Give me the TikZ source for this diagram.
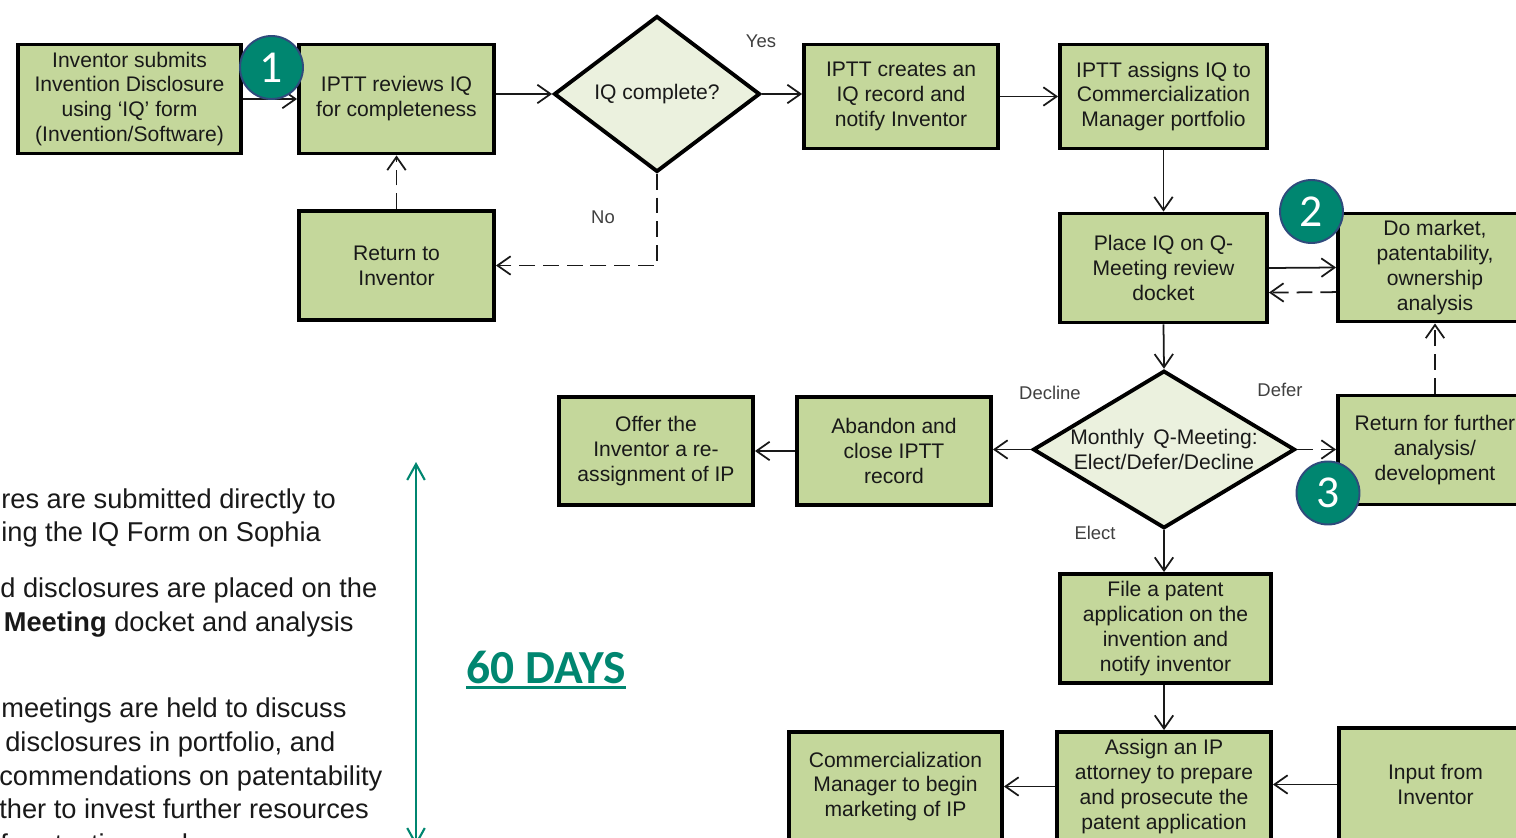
\documentclass[tikz,border=0pt]{standalone}
\usepackage{fontspec}
\setmainfont{Liberation Sans}
\newfontfamily\calibri{Carlito}
\usetikzlibrary{arrows.meta,shapes.geometric}
\newdimen\pxu
\pxu=0.02cm
\definecolor{boxgreen}{RGB}{196,215,155}
\definecolor{diamfill}{RGB}{235,241,222}
\definecolor{tealmark}{RGB}{0,134,112}
\definecolor{navyring}{RGB}{47,75,124}
\definecolor{inkdark}{RGB}{25,25,25}
\definecolor{labelgray}{RGB}{64,64,64}
\begin{document}
\begin{tikzpicture}[x=0.02cm, y=-0.02cm,
  stepbox/.style={draw=black, line width=2.2pt, fill=boxgreen, align=center, inner sep=0pt,
    text=inkdark, font=\fontsize{12}{14.2}\selectfont},
  decision/.style={shape=diamond, draw=black, line width=2.2pt, fill=diamfill, align=center,
    inner sep=-10pt, text=inkdark, font=\fontsize{12}{14.2}\selectfont},
  flow/.style={draw=inkdark, line width=1pt, -{Straight Barb[length=7.5pt,width=10.5pt]}},
  backflow/.style={flow, dash pattern=on 9pt off 4.5pt},
  branch/.style={text=labelgray, font=\fontsize{10.5}{12}\selectfont, inner sep=0pt},
  marker/.style={circle, fill=tealmark, draw=navyring, line width=1.1pt, minimum size=63\pxu,
    inner sep=0pt, text=white, font=\calibri\fontsize{26}{26}\selectfont},
  note/.style={anchor=base west, inner sep=0pt, text=inkdark, font=\fontsize{15.5}{19}\selectfont},
]
\useasboundingbox (0,0) rectangle (1516,838);
\clip (0,0) rectangle (1516,838);
\fill[white] (0,0) rectangle (1516,838);

% --- process steps ---
\node[stepbox, minimum width=223\pxu, minimum height=109\pxu] (submit) at (129.5,99)
  {Inventor submits\\Invention Disclosure\\using ‘IQ’ form\\(Invention/Software)};
\node[stepbox, minimum width=195\pxu, minimum height=109\pxu] (review) at (396.5,99)
  {IPTT reviews IQ\\for completeness};
\node[decision, minimum width=206\pxu, minimum height=156\pxu] (d1) at (657,94)
  {IQ complete?};
\node[stepbox, minimum width=194\pxu, minimum height=104\pxu] (create) at (901,96.5)
  {IPTT creates an\\IQ record and\\notify Inventor};
\node[stepbox, minimum width=207\pxu, minimum height=104\pxu] (assign) at (1163.5,96.5)
  {IPTT assigns IQ to\\Commercialization\\Manager portfolio};
\node[stepbox, minimum width=195\pxu, minimum height=109\pxu] (giveback) at (396.5,265.5)
  {Return to\\Inventor};
\node[stepbox, minimum width=207\pxu, minimum height=109\pxu] (docket) at (1163.5,268)
  {Place IQ on Q-\\Meeting review\\docket};
\node[stepbox, minimum width=194\pxu, minimum height=108\pxu] (analysis) at (1435,267.5)
  {Do market,\\patentability,\\ownership\\analysis};
\node[decision, minimum width=262\pxu, minimum height=154\pxu] (d2) at (1164,449.5)
  {Monthly\hspace{2pt} Q-Meeting:\\Elect/Defer/Decline};
\node[stepbox, minimum width=194\pxu, minimum height=109\pxu] (further) at (1435,450)
  {Return for further\\analysis/\\development};
\node[stepbox, minimum width=194\pxu, minimum height=108\pxu] (abandon) at (894,451)
  {Abandon and\\close IPTT\\record};
\node[stepbox, minimum width=194\pxu, minimum height=108\pxu] (offer) at (656,451)
  {Offer the\\Inventor a re-\\assignment of IP};
\node[stepbox, minimum width=211\pxu, minimum height=109\pxu] (file) at (1165.5,628.5)
  {File a patent\\application on the\\invention and\\notify inventor};
\node[stepbox, minimum width=214\pxu, minimum height=109\pxu] (attorney) at (1164,786.5)
  {Assign an IP\\attorney to prepare\\and prosecute the\\patent application};
\node[stepbox, minimum width=213\pxu, minimum height=109\pxu] (market) at (895.5,786.5)
  {Commercialization\\Manager to begin\\marketing of IP};
\node[stepbox, minimum width=193\pxu, minimum height=113\pxu] (input) at (1435.5,784.5)
  {Input from\\Inventor};

% --- connectors ---
\draw[flow] (submit.east) -- (review.west);
\draw[flow] (review.east |- d1.west) -- (d1.west);
\draw[flow] (d1.east) -- (d1.east -| create.west);
\draw[flow] (create.east) -- (assign.west);
\draw[backflow] (d1.south) |- (giveback.east);
\draw[backflow] (giveback.north) -- (review.south);
\draw[flow] (assign.south) -- (docket.north);
\draw[flow] (docket.east) -- (analysis.west);
\draw[backflow] ([yshift=-14pt]analysis.west) -- ([yshift=-14pt]docket.east);
\draw[flow] (docket.south) -- (d2.north);
\draw[backflow] (d2.east) -- (d2.east -| further.west);
\draw[backflow] (further.north) -- (analysis.south);
\draw[flow] (d2.west) -- (d2.west -| abandon.east);
\draw[flow] (abandon.west) -- (offer.east);
\draw[flow] (d2.south) -- (d2.south |- file.north);
\draw[flow] (attorney.north |- file.south) -- (attorney.north);
\draw[flow] (attorney.west) -- (market.east);
\draw[flow] (input.west) -- (input.west -| attorney.east);

% --- branch labels ---
\node[branch] (yes) at (761,41) {Yes};
\node[branch] (no) at (603,217) {No};
\node[branch] (decline) at (1050,393) {Decline};
\node[branch] (defer) at (1280,390) {Defer};
\node[branch] (elect) at (1095,533) {Elect};

% --- numbered markers ---
\node[marker] (m1) at (271.5,67.5) {1};
\node[marker] (m2) at (1311.5,211.5) {2};
\node[marker] (m3) at (1328,493) {3};

% --- time span ---
\coordinate (spanTop) at (416,462);
\coordinate (spanBottom) at (416,846);
\draw[draw=tealmark, line width=1.2pt,
  {Straight Barb[length=9pt,width=10pt]}-{Straight Barb[length=9pt,width=10pt]}]
  (spanTop) -- (spanBottom);
\node[anchor=base, inner sep=0pt, text=tealmark, font=\calibri\bfseries\fontsize{27}{27}\selectfont]
  (days) at (546,683) {60 DAYS};
\draw[tealmark, line width=1.7pt] ([yshift=-2.6pt]days.base west) -- ([yshift=-2.6pt]days.base east);

% --- notes ---
\node[note] (n1) at (1,508) {res are submitted directly to};
\node[note] (n2) at (1,541) {ing the IQ Form on Sophia};
\node[note] (n3) at (0,597) {d disclosures are placed on the};
\node[note] (n4) at (0,631) {\hspace*{2pt}\textbf{Meeting} docket and analysis};
\node[note] (n5) at (1,717) {meetings are held to discuss};
\node[note] (n6) at (5,751) {disclosures in portfolio, and};
\node[note] (n7) at (-1,785) {commendations on patentability};
\node[note] (n8) at (-1,818) {ther to invest further resources};
\node[note] (n9) at (0,853) {f protection and};
\end{tikzpicture}
\end{document}
